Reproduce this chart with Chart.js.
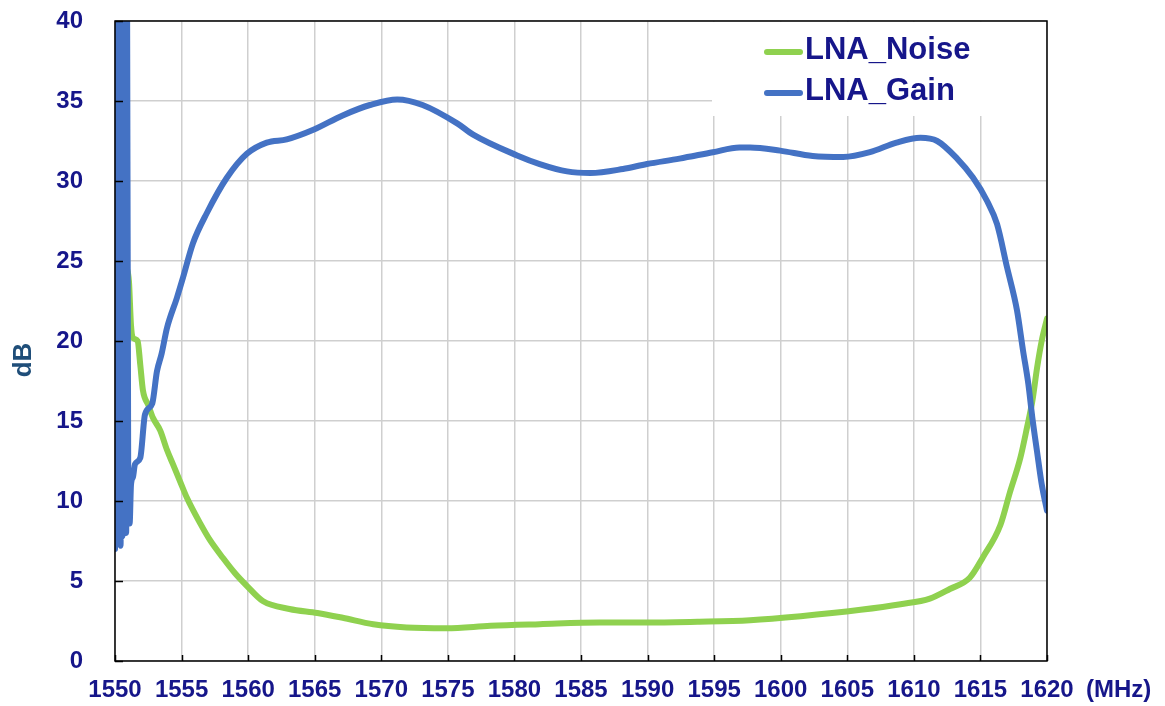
<!DOCTYPE html>
<html>
<head>
<meta charset="utf-8">
<script src="https://cdn.jsdelivr.net/npm/chart.js@4/dist/chart.umd.min.js"></script>
<style>
  html, body { margin: 0; padding: 0; background: #ffffff; }
  #wrap { width: 1165px; height: 706px; }
</style>
</head>
<body>
<div id="wrap"><canvas id="c" width="1165" height="706"></canvas></div>
<script>
// ---- Data ----
const seriesNames = ["LNA_Noise", "LNA_Gain"];
const xTickValues = [1550, 1555, 1560, 1565, 1570, 1575, 1580, 1585, 1590, 1595, 1600, 1605, 1610, 1615, 1620];
const yTickValues = [0, 5, 10, 15, 20, 25, 30, 35, 40];

const gainFreq = [1550.0, 1550.07, 1550.14, 1550.21, 1550.28, 1550.35, 1550.42, 1550.49, 1550.56, 1550.63, 1550.70, 1550.77, 1550.84, 1550.9,
  1551.0, 1551.1, 1551.2, 1551.35, 1551.5, 1551.9, 1552.25, 1552.8, 1553.15, 1553.5, 1553.9, 1554.65, 1555.05, 1555.85, 1556.9, 1558.4,
  1559.9, 1561.4, 1562.9, 1564.9, 1567.1, 1569.15, 1571.2, 1573.1, 1575.7, 1576.9, 1580.2, 1581.9, 1583.95, 1585.7, 1588.15, 1589.95,
  1592.4, 1594.9, 1596.9, 1597.7, 1599.95, 1602.4, 1604.7, 1606.7, 1608.7, 1610.5, 1611.75, 1613.25, 1614.45, 1615.5, 1616.25, 1617.0,
  1617.75, 1618.2, 1618.6, 1618.9, 1619.25, 1619.6, 1620.0];
const gainDb = [7.0, 45, 7.5, 45, 8.2, 45, 7.2, 45, 7.8, 45, 8.5, 45, 8.0, 44,
  9.0, 8.6, 11.0, 11.5, 12.3, 12.7, 15.4, 16.1, 18.1, 19.2, 20.8, 22.7, 23.8, 26.1, 28.0, 30.2,
  31.7, 32.4, 32.6, 33.2, 34.1, 34.75, 35.1, 34.75, 33.6, 32.9, 31.6, 31.06, 30.6, 30.5, 30.75, 31.06,
  31.4, 31.8, 32.1, 32.1, 31.9, 31.56, 31.5, 31.8, 32.4, 32.7, 32.5, 31.4, 30.2, 28.75, 27.3, 24.6,
  21.9, 19.4, 17.3, 15.2, 13.1, 11.06, 9.4];

const noiseFreq = [1550.0, 1550.5, 1550.9, 1551.05, 1551.2, 1551.35, 1551.7, 1551.9, 1552.1, 1552.5, 1552.85, 1553.4, 1553.9, 1554.35,
  1554.9, 1555.4, 1556.4, 1557.1, 1558.1, 1559.0, 1559.9, 1561.1, 1563.1, 1565.2, 1567.1, 1569.4, 1571.9, 1574.9, 1578.2, 1581.9,
  1586.4, 1590.2, 1593.9, 1597.7, 1601.5, 1606.0, 1609.0, 1611.2, 1612.7, 1614.2, 1615.2, 1616.5, 1617.2, 1618.0, 1618.5, 1618.9,
  1619.25, 1619.6, 1620.0];
const noiseDb = [25.1, 24.8, 24.5, 23.7, 21.0, 20.2, 20.0, 18.5, 16.9, 16.0, 15.2, 14.4, 13.2, 12.3,
  11.2, 10.2, 8.6, 7.6, 6.45, 5.5, 4.7, 3.75, 3.25, 3.0, 2.7, 2.3, 2.1, 2.05, 2.2, 2.3,
  2.4, 2.4, 2.45, 2.55, 2.8, 3.2, 3.55, 3.9, 4.5, 5.2, 6.5, 8.5, 10.5, 12.7, 14.6, 16.25,
  18.3, 20.0, 21.4];

const xUnit = "(MHz)";
const yTitle = "dB";

// ---- Styles ----
const FONT = "'Liberation Sans', Arial, sans-serif";
const NAVY = "#16168A";
const GREEN = "#8FD14F";
const BLUE = "#4472C4";
const X_TICK_PAD = 15;

const toPts = (xs, ys) => xs.map((x, i) => ({ x: x, y: ys[i] }));

const decorPlugin = {
  id: 'decor',
  beforeDatasetsDraw(chart) {
    const ctx = chart.ctx;
    const a = chart.chartArea;
    // white legend box covering the grid
    ctx.save();
    ctx.fillStyle = '#ffffff';
    ctx.fillRect(712, a.top + 1, a.right - 712 - 1, 115 - a.top);
    ctx.restore();
  },
  afterDatasetsDraw(chart) {
    const ctx = chart.ctx;
    const a = chart.chartArea;
    const xs = chart.scales.x, ys = chart.scales.y;
    ctx.save();
    // frame
    ctx.strokeStyle = '#000000';
    ctx.lineWidth = 1.5;
    ctx.strokeRect(a.left, a.top, a.right - a.left, a.bottom - a.top);
    // inward tick marks
    ctx.beginPath();
    yTickValues.forEach(v => {
      const py = Math.round(ys.getPixelForValue(v)) + 0.5;
      ctx.moveTo(a.left, py); ctx.lineTo(a.left + 8, py);
    });
    xTickValues.forEach(v => {
      const px = Math.round(xs.getPixelForValue(v)) + 0.5;
      ctx.moveTo(px, a.bottom); ctx.lineTo(px, a.bottom - 6);
    });
    ctx.stroke();

    // legend
    const rows = [
      { name: seriesNames[0], color: GREEN, y: 52 },
      { name: seriesNames[1], color: BLUE, y: 93 }
    ];
    rows.forEach(r => {
      ctx.strokeStyle = r.color;
      ctx.lineWidth = 6;
      ctx.lineCap = 'round';
      ctx.beginPath();
      ctx.moveTo(767, r.y); ctx.lineTo(800, r.y);
      ctx.stroke();
      ctx.fillStyle = NAVY;
      ctx.font = "bold 31px " + FONT;
      ctx.textAlign = 'left';
      ctx.textBaseline = 'middle';
      ctx.fillText(r.name, 805, r.y - 2);
    });

    // axis unit and title
    ctx.fillStyle = NAVY;
    ctx.font = "bold 24px " + FONT;
    ctx.textAlign = 'left';
    ctx.textBaseline = 'middle';
    ctx.fillText(xUnit, 1086, a.bottom + X_TICK_PAD + 14.4);

    ctx.fillStyle = '#1F4E79';
    ctx.font = "bold 26px " + FONT;
    ctx.translate(24, 360);
    ctx.rotate(-Math.PI / 2);
    ctx.textAlign = 'center';
    ctx.textBaseline = 'middle';
    ctx.fillText(yTitle, 0, 0);
    ctx.restore();
  }
};

new Chart(document.getElementById('c'), {
  type: 'line',
  data: {
    datasets: [
      {
        label: seriesNames[1],
        data: toPts(gainFreq, gainDb),
        borderColor: BLUE,
        backgroundColor: BLUE,
        borderWidth: 6,
        pointRadius: 0,
        cubicInterpolationMode: 'monotone',
        borderJoinStyle: 'round',
        borderCapStyle: 'round'
      },
      {
        label: seriesNames[0],
        data: toPts(noiseFreq, noiseDb),
        borderColor: GREEN,
        backgroundColor: GREEN,
        borderWidth: 6,
        pointRadius: 0,
        cubicInterpolationMode: 'monotone',
        borderJoinStyle: 'round',
        borderCapStyle: 'round'
      }
    ]
  },
  options: {
    responsive: false,
    animation: false,
    devicePixelRatio: 1,
    layout: { padding: { left: 0, right: 118, top: 21, bottom: 0 } },
    plugins: {
      legend: { display: false },
      tooltip: { enabled: false }
    },
    scales: {
      x: {
        type: 'linear',
        min: 1550, max: 1620,
        afterFit(s) { s.height = 45; },
        afterBuildTicks(s) { s.ticks = xTickValues.map(v => ({ value: v })); },
        ticks: {
          font: { family: FONT, size: 24, weight: 'bold' },
          color: NAVY,
          padding: X_TICK_PAD,
          maxRotation: 0,
          autoSkip: false,
          callback: v => String(v)
        },
        grid: { color: '#CFCFCF', lineWidth: 1.5, drawTicks: false },
        border: { display: false }
      },
      y: {
        type: 'linear',
        min: 0, max: 40,
        afterFit(s) { s.width = 115; },
        afterBuildTicks(s) { s.ticks = yTickValues.map(v => ({ value: v })); },
        ticks: {
          font: { family: FONT, size: 24, weight: 'bold' },
          color: NAVY,
          padding: 2,
          callback: v => String(v)
        },
        grid: { color: '#CFCFCF', lineWidth: 1.5, drawTicks: true, tickLength: 30, tickColor: 'rgba(0,0,0,0)' },
        border: { display: false }
      }
    }
  },
  plugins: [decorPlugin]
});
</script>
</body>
</html>
